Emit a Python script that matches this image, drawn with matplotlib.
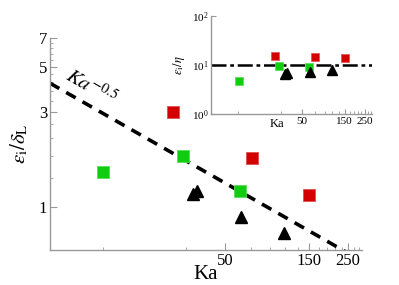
import numpy as np
import matplotlib
matplotlib.use("Agg")
import matplotlib.pyplot as plt
from matplotlib.ticker import FixedLocator, NullFormatter, FixedFormatter, LogFormatterMathtext

plt.rcParams['font.family'] = ['Liberation Serif', 'DejaVu Serif']
plt.rcParams['mathtext.fontset'] = 'stix'

ka_green = [10.1, 28.5, 60.9]
eps_green = [1.50, 1.80, 1.20]
ka_red = [25.3, 71.2, 150.0]
eps_red = [3.0, 1.76, 1.15]
ka_tri = [32.5, 34.5, 61.6, 108.0]
eps_tri = [1.16, 1.20, 0.89, 0.74]

# inset: eps_i / eta
eta_green = [4.7, 9.5, 9.1]
eta_red = [15.3, 14.5, 13.9]
eta_tri = [6.7, 7.0, 7.2, 7.9]

ka_ticks = [50, 150, 250]
fit_coef = 9.3      # eps_i/delta_L = C * Ka^-0.5
eta_ref = 10.0

GREEN = '#11cc11'
RED = '#d40000'
SPINE = '#999999'


def style_axes(ax, labelsize):
    """Only left/bottom spines, inward ticks."""
    for side in ('top', 'right'):
        ax.spines[side].set_visible(False)
    for side in ('left', 'bottom'):
        ax.spines[side].set_color(SPINE)
        ax.spines[side].set_linewidth(1.0)
    ax.tick_params(which='both', direction='in', color=SPINE, labelsize=labelsize, pad=2)
    ax.tick_params(which='major', length=5)
    ax.tick_params(which='minor', length=2.5)


fig = plt.figure(figsize=(3.99, 2.85), dpi=100)

# main panel
ax = fig.add_axes([0.125, 0.123, 0.782, 0.744])
ax.set_xscale('log')
ax.set_yscale('log')
ax.set_xlim(5, 300)
ax.set_ylim(0.61, 7)

ka_line = np.array([5, 300])
ax.plot(ka_line, fit_coef * ka_line ** -0.5, 'k--', lw=2.6, dashes=(3, 2.2))
ax.plot(ka_green, eps_green, 's', color=GREEN, ms=8, mec='#55dd55', mew=0.6)
ax.plot(ka_red, eps_red, 's', color=RED, ms=8, mec='#e05050', mew=0.6)
ax.plot(ka_tri, eps_tri, '^', color='k', ms=9)

ax.text(8.6, 3.95, r'$Ka^{-0.5}$', fontsize=15, rotation=-30,
        ha='center', va='center', rotation_mode='anchor')

style_axes(ax, 12)
ax.xaxis.set_major_locator(FixedLocator(ka_ticks))
ax.xaxis.set_major_formatter(FixedFormatter([str(t) for t in ka_ticks]))
ax.xaxis.set_minor_locator(FixedLocator(np.arange(10, 300, 20)))
ax.xaxis.set_minor_formatter(NullFormatter())
ax.yaxis.set_major_locator(FixedLocator([1, 3, 5, 7]))
ax.yaxis.set_major_formatter(FixedFormatter(['1', '3', '5', '7']))
ax.yaxis.set_minor_locator(FixedLocator(np.arange(1.4, 7.0, 0.4)))
ax.yaxis.set_minor_formatter(NullFormatter())
ax.tick_params(axis='both', labelcolor='k')
ax.set_xlabel('Ka', fontsize=15, labelpad=-3)
ax.set_ylabel(r'$\varepsilon_{\rm i}/\delta_{\rm L}$', fontsize=15, labelpad=6)

# inset panel
ins = fig.add_axes([0.529, 0.60, 0.403, 0.344])
ins.set_xscale('log')
ins.set_yscale('log')
ins.set_xlim(5, 300)
ins.set_ylim(1, 100)
ins.axhline(eta_ref, color='k', lw=1.8, dashes=(6, 1.5, 1.5, 1.5))
ins.plot(ka_green, eta_green, 's', color=GREEN, ms=5.5, mec='#55dd55', mew=0.5)
ins.plot(ka_red, eta_red, 's', color=RED, ms=5.5, mec='#e05050', mew=0.5)
ins.plot(ka_tri, eta_tri, '^', color='k', ms=7)

style_axes(ins, 8)
ins.xaxis.set_major_locator(FixedLocator(ka_ticks))
ins.xaxis.set_major_formatter(FixedFormatter([str(t) for t in ka_ticks]))
ins.xaxis.set_minor_locator(FixedLocator(np.arange(10, 300, 20)))
ins.xaxis.set_minor_formatter(NullFormatter())
ins.yaxis.set_major_locator(FixedLocator([1, 10, 100]))
ins.yaxis.set_major_formatter(LogFormatterMathtext())
ins.yaxis.set_minor_locator(FixedLocator([]))
ins.tick_params(which='major', length=3.5)
ins.tick_params(which='minor', length=2)
ins.set_xlabel('Ka', fontsize=9, labelpad=-2)
ins.xaxis.set_label_coords(0.41, -0.04)
ins.set_ylabel(r'$\varepsilon_{\rm i}/\eta$', fontsize=9, labelpad=3)

fig.savefig('out.png', dpi=100)
